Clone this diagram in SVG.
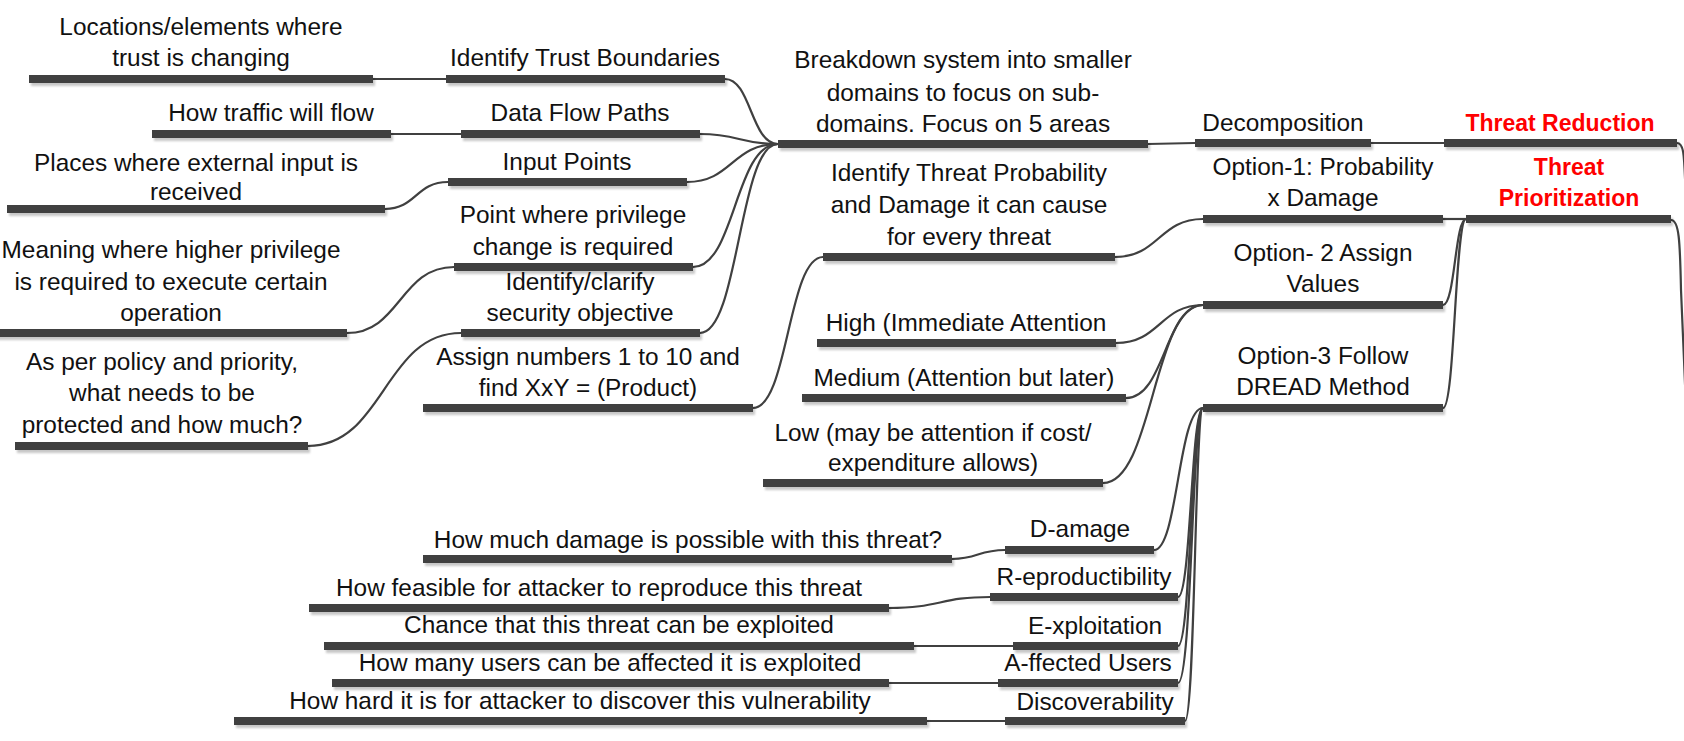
<svg xmlns="http://www.w3.org/2000/svg" width="1684" height="741" viewBox="0 0 1684 741">
  <defs>
    <filter id="shadow" x="-5%" y="-100%" width="110%" height="400%">
      <feDropShadow dx="2" dy="3" stdDeviation="1.2" flood-color="#000" flood-opacity="0.22"/>
    </filter>
  </defs>
  <style>
    .bar { fill: #404040; filter: url(#shadow); }
    .lbl { font-family: "Liberation Sans", Arial, sans-serif; font-size: 24.4px; fill: #111; text-anchor: middle; }
    .hot { font-family: "Liberation Sans", Arial, sans-serif; font-size: 23px; font-weight: bold; fill: #ff0000; text-anchor: middle; }
    .link { fill: none; stroke: #404040; stroke-width: 2.2; }
  </style>
  <rect width="1684" height="741" fill="#fff"/>

  <!-- connectors -->
  <g id="connectors">
    <!-- leaves into the five decomposition areas -->
    <path class="link" d="M373,79 L446,79"/>
    <path class="link" d="M391,134 L461,134"/>
    <path class="link" d="M385,209 C416,209 416,182 448,182"/>
    <path class="link" d="M347,333 C400,333 400,267 454,267"/>
    <path class="link" d="M308,446 C384,446 384,333 461,333"/>
    <!-- areas into breakdown -->
    <path class="link" d="M725,79 C751,79 751,144 778,144"/>
    <path class="link" d="M700,134 C739,134 739,144 778,144"/>
    <path class="link" d="M687,182 C732,182 732,144 778,144"/>
    <path class="link" d="M693,267 C735,267 735,144 778,144"/>
    <path class="link" d="M700,333 C739,333 739,144 778,144"/>
    <!-- decomposition chain -->
    <path class="link" d="M1148,144 L1195,143"/>
    <path class="link" d="M1371,143 L1444,143"/>
    <!-- prioritization -->
    <path class="link" d="M753,408 C788,408 788,257 823,257"/>
    <path class="link" d="M1115,257 C1159,257 1159,219 1203,219"/>
    <path class="link" d="M1116,343 C1160,343 1160,305 1203,305"/>
    <path class="link" d="M1126,398 C1165,398 1165,305 1203,305"/>
    <path class="link" d="M1103,483 C1153,483 1153,305 1203,305"/>
    <path class="link" d="M1443,219 L1466,219"/>
    <path class="link" d="M1443,305 C1455,305 1455,219 1466,219"/>
    <path class="link" d="M1443,408 C1455,408 1455,219 1466,219"/>
    <!-- DREAD leaves -->
    <path class="link" d="M952,559 C978,559 978,550 1005,550"/>
    <path class="link" d="M889,608 C940,608 940,597 990,597"/>
    <path class="link" d="M914,646 L1013,646"/>
    <path class="link" d="M889,683 L998,683"/>
    <path class="link" d="M927,721 L1005,721"/>
    <path class="link" d="M1154,550 C1178,550 1178,408 1203,408"/>
    <path class="link" d="M1178,597 C1191,597 1191,408 1203,408"/>
    <path class="link" d="M1178,646 C1191,646 1191,408 1203,408"/>
    <path class="link" d="M1178,683 C1192,683 1192,408 1203,408"/>
    <path class="link" d="M1185,721 C1195,721 1195,408 1203,408"/>
    <!-- branches running on to the right -->
    <path class="link" d="M1677,143 C1685,143 1684,160 1686,200 L1700,500"/>
    <path class="link" d="M1671,220 C1679,220 1680,240 1681,290 L1684,360 L1690,500"/>
  </g>

  <g id="locations">
    <rect class="bar" x="29" y="75" width="344" height="8"/>
    <text class="lbl" x="201" y="35">Locations/elements where</text>
    <text class="lbl" x="201" y="66">trust is changing</text>
  </g>
  <g id="traffic">
    <rect class="bar" x="152" y="130" width="239" height="8"/>
    <text class="lbl" x="271" y="121">How traffic will flow</text>
  </g>
  <g id="external-input">
    <rect class="bar" x="7" y="205" width="378" height="8"/>
    <text class="lbl" x="196" y="171">Places where external input is</text>
    <text class="lbl" x="196" y="200">received</text>
  </g>
  <g id="higher-privilege">
    <rect class="bar" x="-5" y="329" width="352" height="8"/>
    <text class="lbl" x="171" y="258">Meaning where higher privilege</text>
    <text class="lbl" x="171" y="290">is required to execute certain</text>
    <text class="lbl" x="171" y="321">operation</text>
  </g>
  <g id="policy">
    <rect class="bar" x="15" y="442" width="293" height="8"/>
    <text class="lbl" x="162" y="370">As per policy and priority,</text>
    <text class="lbl" x="162" y="401">what needs to be</text>
    <text class="lbl" x="162" y="433">protected and how much?</text>
  </g>

  <g id="trust-boundaries">
    <rect class="bar" x="446" y="75" width="279" height="8"/>
    <text class="lbl" x="585" y="66">Identify Trust Boundaries</text>
  </g>
  <g id="data-flow">
    <rect class="bar" x="461" y="130" width="239" height="8"/>
    <text class="lbl" x="580" y="121">Data Flow Paths</text>
  </g>
  <g id="input-points">
    <rect class="bar" x="448" y="178" width="239" height="8"/>
    <text class="lbl" x="567" y="170">Input Points</text>
  </g>
  <g id="privilege-change">
    <rect class="bar" x="454" y="263" width="239" height="8"/>
    <text class="lbl" x="573" y="223">Point where privilege</text>
    <text class="lbl" x="573" y="255">change is required</text>
  </g>
  <g id="security-objective">
    <rect class="bar" x="461" y="329" width="239" height="8"/>
    <text class="lbl" x="580" y="290">Identify/clarify</text>
    <text class="lbl" x="580" y="321">security objective</text>
  </g>
  <g id="assign-numbers">
    <rect class="bar" x="423" y="404" width="330" height="8"/>
    <text class="lbl" x="588" y="365">Assign numbers 1 to 10 and</text>
    <text class="lbl" x="588" y="396">find XxY = (Product)</text>
  </g>

  <g id="breakdown">
    <rect class="bar" x="778" y="140" width="370" height="8"/>
    <text class="lbl" x="963" y="68">Breakdown system into smaller</text>
    <text class="lbl" x="963" y="101">domains to focus on sub-</text>
    <text class="lbl" x="963" y="132">domains. Focus on 5 areas</text>
  </g>
  <g id="threat-probability">
    <rect class="bar" x="823" y="253" width="292" height="8"/>
    <text class="lbl" x="969" y="181">Identify Threat Probability</text>
    <text class="lbl" x="969" y="213">and Damage it can cause</text>
    <text class="lbl" x="969" y="245">for every threat</text>
  </g>
  <g id="high">
    <rect class="bar" x="817" y="339" width="299" height="8"/>
    <text class="lbl" x="966" y="331">High (Immediate Attention</text>
  </g>
  <g id="medium">
    <rect class="bar" x="802" y="394" width="324" height="8"/>
    <text class="lbl" x="964" y="386">Medium (Attention but later)</text>
  </g>
  <g id="low">
    <rect class="bar" x="763" y="479" width="340" height="8"/>
    <text class="lbl" x="933" y="441">Low (may be attention if cost/</text>
    <text class="lbl" x="933" y="471">expenditure allows)</text>
  </g>

  <g id="decomposition">
    <rect class="bar" x="1195" y="139" width="176" height="8"/>
    <text class="lbl" x="1283" y="131">Decomposition</text>
  </g>
  <g id="threat-reduction">
    <rect class="bar" x="1444" y="139" width="233" height="8"/>
    <text class="hot" x="1560" y="131">Threat Reduction</text>
  </g>
  <g id="option-1">
    <rect class="bar" x="1203" y="215" width="240" height="8"/>
    <text class="lbl" x="1323" y="175">Option-1: Probability</text>
    <text class="lbl" x="1323" y="206">x Damage</text>
  </g>
  <g id="threat-prioritization">
    <rect class="bar" x="1466" y="215" width="205" height="8"/>
    <text class="hot" x="1569" y="175">Threat</text>
    <text class="hot" x="1569" y="206">Prioritization</text>
  </g>
  <g id="option-2">
    <rect class="bar" x="1203" y="301" width="240" height="8"/>
    <text class="lbl" x="1323" y="261">Option- 2 Assign</text>
    <text class="lbl" x="1323" y="292">Values</text>
  </g>
  <g id="option-3">
    <rect class="bar" x="1203" y="404" width="240" height="8"/>
    <text class="lbl" x="1323" y="364">Option-3 Follow</text>
    <text class="lbl" x="1323" y="395">DREAD Method</text>
  </g>

  <g id="damage-question">
    <rect class="bar" x="423" y="555" width="529" height="8"/>
    <text class="lbl" x="688" y="548">How much damage is possible with this threat?</text>
  </g>
  <g id="reproduce-question">
    <rect class="bar" x="309" y="604" width="580" height="8"/>
    <text class="lbl" x="599" y="596">How feasible for attacker to reproduce this threat</text>
  </g>
  <g id="exploit-question">
    <rect class="bar" x="324" y="642" width="590" height="8"/>
    <text class="lbl" x="619" y="633">Chance that this threat can be exploited</text>
  </g>
  <g id="users-question">
    <rect class="bar" x="332" y="679" width="557" height="8"/>
    <text class="lbl" x="610" y="671">How many users can be affected it is exploited</text>
  </g>
  <g id="discover-question">
    <rect class="bar" x="234" y="717" width="693" height="8"/>
    <text class="lbl" x="580" y="709">How hard it is for attacker to discover this vulnerability</text>
  </g>

  <g id="d-amage">
    <rect class="bar" x="1005" y="546" width="149" height="8"/>
    <text class="lbl" x="1080" y="537">D-amage</text>
  </g>
  <g id="r-eproductibility">
    <rect class="bar" x="990" y="593" width="188" height="8"/>
    <text class="lbl" x="1084" y="585">R-eproductibility</text>
  </g>
  <g id="e-xploitation">
    <rect class="bar" x="1013" y="642" width="165" height="8"/>
    <text class="lbl" x="1095" y="634">E-xploitation</text>
  </g>
  <g id="a-ffected-users">
    <rect class="bar" x="998" y="679" width="180" height="8"/>
    <text class="lbl" x="1088" y="671">A-ffected Users</text>
  </g>
  <g id="discoverability">
    <rect class="bar" x="1005" y="717" width="180" height="8"/>
    <text class="lbl" x="1095" y="710">Discoverability</text>
  </g>
</svg>
